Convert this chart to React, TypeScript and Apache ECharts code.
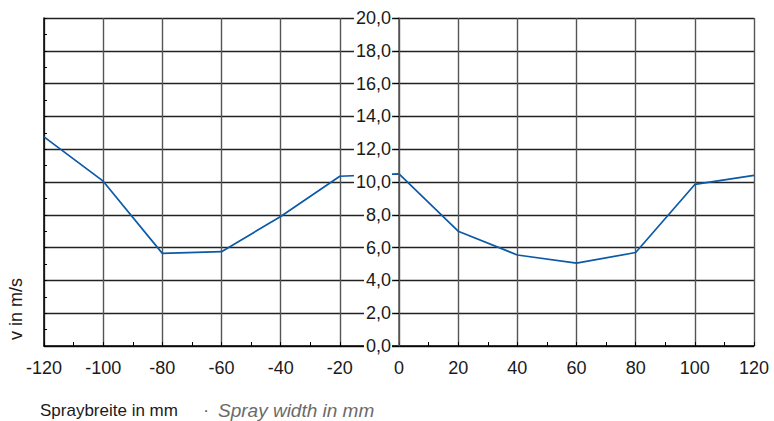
import React, { useEffect, useRef } from "react";
import * as echarts from "echarts";

const positionsMm = [-120, -100, -80, -60, -40, -20, 0, 20, 40, 60, 80, 100, 120];
const speedMs = [12.75, 10.05, 5.65, 5.75, 7.9, 10.35, 10.5, 7.0, 5.55, 5.05, 5.7, 9.85, 10.4];

const xMin = -120;
const xMax = 120;
const xStep = 20;
const yMin = 0;
const yMax = 20;
const yStep = 2;

const yAxisTitle = "v in m/s";
const xTitleDe = "Spraybreite in mm";
const xTitleEn = "Spray width in mm";

const FONT = "'Liberation Sans', Arial, sans-serif";

const GRID_LEFT = 44;
const GRID_RIGHT = 20;
const CHART_W = 774;

export default function App() {
  const ref = useRef<HTMLDivElement>(null);
  useEffect(() => {
    if (!ref.current) return;
    const chart = echarts.init(ref.current, undefined, { renderer: "svg" });
    const data = positionsMm.map((x, i) => [x, speedMs[i]]);
    const plotW = CHART_W - GRID_LEFT - GRID_RIGHT;
    const zeroOffset = -((0 - xMin) / (xMax - xMin)) * plotW;
    chart.setOption({
      animation: false,
      textStyle: { fontFamily: FONT },
      grid: { left: GRID_LEFT, right: GRID_RIGHT, top: 18, bottom: 75, containLabel: false },
      xAxis: {
        type: "value",
        min: xMin,
        max: xMax,
        interval: xStep,
        axisLine: { show: true, onZero: false, lineStyle: { color: "#000", width: 1.5 } },
        axisTick: { show: true, inside: true, length: 4, lineStyle: { color: "#000" } },
        minorTick: { show: true, splitNumber: 2, length: 4, lineStyle: { color: "#000" } },
        splitLine: { show: true, lineStyle: { color: "#555", width: 1.4 } },
        axisLabel: { fontSize: 18, color: "#1a1a1a", margin: 13, fontFamily: FONT },
      },
      yAxis: [
        {
          type: "value",
          position: "left",
          min: yMin,
          max: yMax,
          interval: yStep,
          axisLine: { show: true, onZero: false, lineStyle: { color: "#000", width: 1.5 } },
          axisTick: { show: true, inside: true, length: 3, lineStyle: { color: "#000" } },
          minorTick: { show: true, splitNumber: 2, length: 3, lineStyle: { color: "#000" } },
          splitLine: { show: true, lineStyle: { color: "#222", width: 1.3 } },
          axisLabel: { show: false },
        },
        {
          type: "value",
          position: "left",
          offset: zeroOffset,
          min: yMin,
          max: yMax,
          interval: yStep,
          z: 10,
          axisLine: { show: true, onZero: false, lineStyle: { color: "#555", width: 1.5 } },
          axisTick: { show: true, inside: false, length: 5, lineStyle: { color: "#000" } },
          splitLine: { show: false },
          axisLabel: {
            show: true,
            fontSize: 18,
            color: "#1a1a1a",
            margin: 7,
            fontFamily: FONT,
            backgroundColor: "#fff",
            padding: [1, 1, 1, 2],
            formatter: (v: number) => v.toFixed(1).replace(".", ","),
          },
        },
      ],
      series: [
        {
          type: "line",
          data,
          xAxisIndex: 0,
          yAxisIndex: 0,
          symbol: "none",
          lineStyle: { color: "#0b5aa8", width: 1.7 },
          z: 3,
        },
      ],
      graphic: [
        {
          type: "text",
          x: 16,
          y: 340,
          rotation: Math.PI / 2,
          style: {
            text: yAxisTitle,
            fontSize: 18,
            fontFamily: FONT,
            fill: "#1a1a1a",
            textAlign: "left",
            textVerticalAlign: "middle",
          },
        },
        {
          type: "text",
          x: 40,
          y: 410,
          style: {
            text: xTitleDe,
            fontSize: 17,
            fontFamily: FONT,
            fill: "#1a1a1a",
            textVerticalAlign: "middle",
          },
        },
        {
          type: "text",
          x: 206,
          y: 410,
          style: {
            text: "·",
            fontSize: 17,
            fontFamily: FONT,
            fill: "#555",
            textAlign: "center",
            textVerticalAlign: "middle",
          },
        },
        {
          type: "text",
          x: 218,
          y: 410,
          style: {
            text: xTitleEn,
            fontSize: 19,
            fontFamily: FONT,
            fontStyle: "italic",
            fill: "#6a6a6a",
            textVerticalAlign: "middle",
          },
        },
      ],
    });
    return () => chart.dispose();
  }, []);
  return (
    <div
      ref={ref}
      style={{ position: "fixed", left: 0, top: 0, width: 774, height: 421, background: "#fff" }}
    />
  );
}
